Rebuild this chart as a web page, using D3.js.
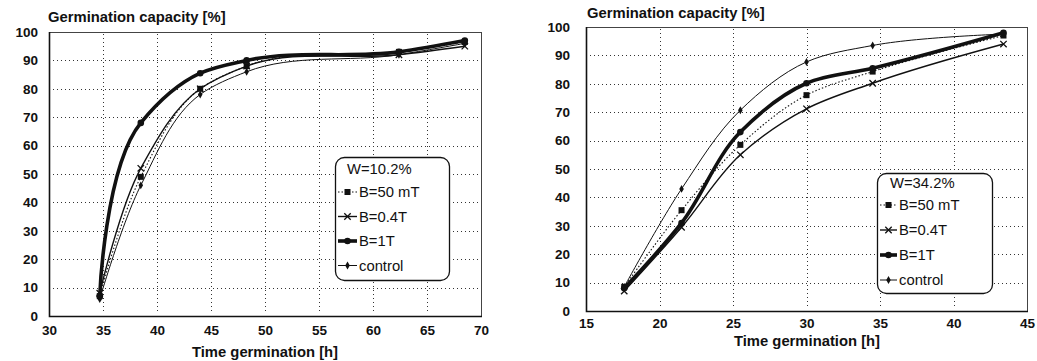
<!DOCTYPE html>
<html>
<head>
<meta charset="utf-8">
<script src="https://cdn.jsdelivr.net/npm/d3@7"></script>
<style>
  html, body { margin: 0; padding: 0; background: #fff; }
  svg { display: block; font-family: "Liberation Sans", Arial, sans-serif; }
</style>
</head>
<body>
<svg id="chart" width="1037" height="361"></svg>
<script>
// ---------------- DATA ----------------
const seriesNames = ["B=50 mT", "B=0.4T", "B=1T", "control"];
const yTicks = [0, 10, 20, 30, 40, 50, 60, 70, 80, 90, 100];

// Left panel: W = 10.2 %
const leftLegendTitle = "W=10.2%";
const leftXTicks = [30, 35, 40, 45, 50, 55, 60, 65, 70];
const leftTimes   = [34.7, 38.5, 44.0, 48.3, 62.4, 68.5];
const leftB50     = [7, 49, 80, 88, 93, 96.5];
const leftB04     = [8, 52, 80, 88, 92, 95];
const leftB1      = [7, 68, 85.5, 90, 93, 97];
const leftControl = [6, 46, 78, 86, 92, 96];

// Right panel: W = 34.2 %
const rightLegendTitle = "W=34.2%";
const rightXTicks = [15, 20, 25, 30, 35, 40, 45];
const rightTimes   = [17.6, 21.5, 25.5, 30.0, 34.5, 43.4];
const rightB50     = [8.5, 35.5, 58.5, 76, 84.3, 97];
const rightB04     = [7, 29.5, 55, 71.2, 80.2, 94];
const rightB1      = [8, 31, 63, 80.2, 85.5, 98];
const rightControl = [8.5, 43, 70.7, 87.7, 93.5, 97.5];

const yTitle = "Germination capacity [%]";
const xTitle = "Time germination [h]";

// ---------------- STYLES ----------------
const styles = {
  "B=50 mT": { width: 1.1, dash: "1.5,2", marker: "square" },
  "B=0.4T":  { width: 1.4, dash: null,    marker: "x" },
  "B=1T":    { width: 3.6, dash: null,    marker: "circle" },
  "control": { width: 1.0, dash: null,    marker: "diamond" }
};

const svg = d3.select("#chart");

function drawMarker(g, type, x, y) {
  if (type === "square") {
    g.append("rect").attr("x", x - 3).attr("y", y - 3).attr("width", 6).attr("height", 6).attr("fill", "#111");
  } else if (type === "x") {
    const s = 3.2;
    g.append("path").attr("d", `M${x-s},${y-s}L${x+s},${y+s}M${x-s},${y+s}L${x+s},${y-s}`)
      .attr("stroke", "#111").attr("stroke-width", 1.3).attr("fill", "none");
  } else if (type === "circle") {
    g.append("circle").attr("cx", x).attr("cy", y).attr("r", 3.3).attr("fill", "#111");
  } else if (type === "diamond") {
    g.append("path").attr("d", d3.symbol().type(d3.symbolDiamond).size(18)())
      .attr("transform", `translate(${x},${y})`).attr("fill", "#111");
  }
}

function drawPanel(cfg) {
  const x = d3.scaleLinear().domain(cfg.xDomain).range([cfg.left, cfg.right]);
  const y = d3.scaleLinear().domain([0, 100]).range([cfg.bottom, cfg.top]);
  const g = svg.append("g");

  // gridlines
  const grid = g.append("g").attr("stroke", "#333").attr("stroke-width", 1).attr("stroke-dasharray", "1,3");
  yTicks.filter(v => v > 0 && v < 100).forEach(v => {
    grid.append("line").attr("x1", cfg.left + 4).attr("x2", cfg.right - 2)
      .attr("y1", Math.round(y(v)) + 0.5).attr("y2", Math.round(y(v)) + 0.5);
  });
  cfg.xTicks.filter(v => v > cfg.xDomain[0] && v < cfg.xDomain[1]).forEach(v => {
    grid.append("line").attr("y1", cfg.top + 2).attr("y2", cfg.bottom - 2)
      .attr("x1", Math.round(x(v)) + 0.5).attr("x2", Math.round(x(v)) + 0.5);
  });

  // frame
  g.append("rect").attr("x", cfg.left + 0.5).attr("y", cfg.top + 0.5)
    .attr("width", cfg.right - cfg.left).attr("height", cfg.bottom - cfg.top)
    .attr("fill", "none").attr("stroke", "#444").attr("stroke-width", 1);
  g.append("path").attr("d", `M${cfg.left + 0.5},${cfg.top}V${cfg.bottom + 0.5}H${cfg.right + 1}`)
    .attr("fill", "none").attr("stroke", "#111").attr("stroke-width", 1.6);

  // axes (labels only)
  const yAxis = d3.axisLeft(y).tickValues(yTicks).tickSize(0).tickPadding(0).tickFormat(d3.format("d"));
  const ya = g.append("g").attr("transform", `translate(${cfg.yLabelRight},0)`).call(yAxis);
  ya.select(".domain").remove();
  ya.selectAll("text").attr("font-size", 13.5).attr("font-weight", "bold").attr("fill", "#111")
    .attr("font-family", "Liberation Sans, Arial, sans-serif");

  const xAxis = d3.axisBottom(x).tickValues(cfg.xTicks).tickSize(0).tickPadding(0).tickFormat(d3.format("d"));
  const xa = g.append("g").attr("transform", `translate(0,${cfg.xLabelTop})`).call(xAxis);
  xa.select(".domain").remove();
  xa.selectAll("text").attr("font-size", 13.5).attr("font-weight", "bold").attr("fill", "#111")
    .attr("font-family", "Liberation Sans, Arial, sans-serif");

  // titles
  g.append("text").attr("x", cfg.yTitleX).attr("y", cfg.yTitleY).text(yTitle)
    .attr("font-size", 14.8).attr("font-weight", "bold").attr("fill", "#111");
  g.append("text").attr("x", cfg.xTitleX).attr("y", cfg.xTitleY).text(xTitle)
    .attr("text-anchor", "middle").attr("font-size", 14.8).attr("font-weight", "bold").attr("fill", "#111");

  // lines
  const line = d3.line().x(d => x(d[0])).y(d => y(d[1])).curve(d3.curveCatmullRom.alpha(1));
  const order = ["control", "B=50 mT", "B=0.4T", "B=1T"];
  order.forEach(name => {
    const vals = cfg.series[name];
    const pts = cfg.times.map((t, i) => [t, vals[i]]);
    const st = styles[name];
    const p = g.append("path").datum(pts).attr("d", line).attr("fill", "none")
      .attr("stroke", "#111").attr("stroke-width", st.width).attr("stroke-linejoin", "round");
    if (st.dash) p.attr("stroke-dasharray", st.dash);
  });
  order.forEach(name => {
    const vals = cfg.series[name];
    const mg = g.append("g");
    cfg.times.forEach((t, i) => drawMarker(mg, styles[name].marker, x(t), y(vals[i])));
  });

  // legend
  const L = cfg.legend;
  const lg = g.append("g");
  lg.append("rect").attr("x", L.x0 + 0.5).attr("y", L.y0 + 0.5).attr("width", L.x1 - L.x0).attr("height", L.y1 - L.y0)
    .attr("rx", 9).attr("ry", 9).attr("fill", "#fff").attr("stroke", "#111").attr("stroke-width", 1.3);
  lg.append("text").attr("x", L.titleX).attr("y", L.titleY).text(cfg.legendTitle)
    .attr("font-size", 14.8).attr("fill", "#111");
  seriesNames.forEach((name, i) => {
    const by = L.firstY + i * L.step;
    const cy = by - 5;
    const st = styles[name];
    const ln = lg.append("line").attr("x1", L.symX0).attr("x2", L.symX1).attr("y1", cy).attr("y2", cy)
      .attr("stroke", "#111").attr("stroke-width", st.width);
    if (st.dash) ln.attr("stroke-dasharray", st.dash);
    drawMarker(lg, st.marker, (L.symX0 + L.symX1) / 2, cy);
    lg.append("text").attr("x", L.textX).attr("y", by).text(name).attr("font-size", 14.8).attr("fill", "#111");
  });
}

drawPanel({
  xDomain: [30, 70], xTicks: leftXTicks, times: leftTimes,
  series: { "B=50 mT": leftB50, "B=0.4T": leftB04, "B=1T": leftB1, "control": leftControl },
  left: 49, right: 481, top: 32, bottom: 316,
  yLabelRight: 38, xLabelTop: 325,
  yTitleX: 48, yTitleY: 22, xTitleX: 265, xTitleY: 357,
  legendTitle: leftLegendTitle,
  legend: { x0: 335, x1: 449, y0: 157, y1: 280, titleX: 347, titleY: 174, firstY: 197, step: 24.5,
            symX0: 338, symX1: 357, textX: 359 }
});

drawPanel({
  xDomain: [15, 45], xTicks: rightXTicks, times: rightTimes,
  series: { "B=50 mT": rightB50, "B=0.4T": rightB04, "B=1T": rightB1, "control": rightControl },
  left: 586, right: 1027, top: 27, bottom: 311,
  yLabelRight: 570, xLabelTop: 318,
  yTitleX: 587, yTitleY: 18, xTitleX: 807, xTitleY: 346,
  legendTitle: rightLegendTitle,
  legend: { x0: 877, x1: 992, y0: 173, y1: 293, titleX: 890, titleY: 188, firstY: 210, step: 25,
            symX0: 880, symX1: 897, textX: 899 }
});
</script>
</body>
</html>
